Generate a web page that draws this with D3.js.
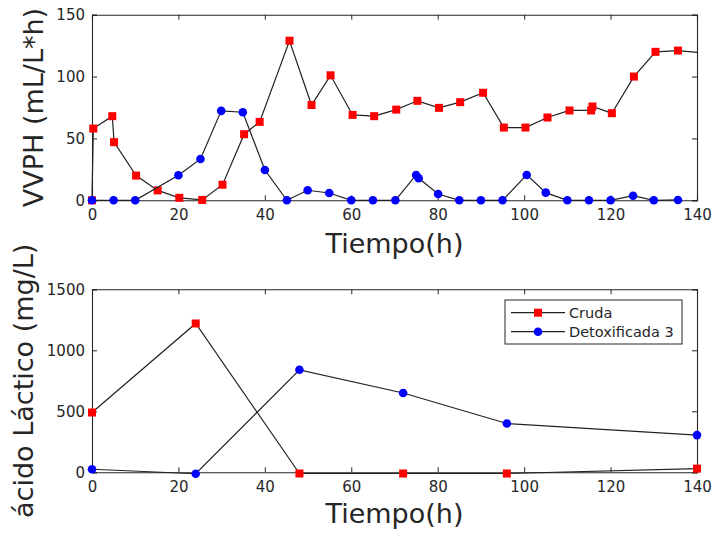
<!DOCTYPE html>
<html>
<head>
<meta charset="utf-8">
<script src="https://cdn.jsdelivr.net/npm/d3@7"></script>
<style>
  body { margin: 0; background: #fff; }
  svg { display: block; }
  text { font-family: "DejaVu Sans", sans-serif; fill: #262626; }
</style>
</head>
<body>
<svg id="chart" width="715" height="533"></svg>
<script>
// top panel: VVPH
const tCrudaTop = [0, 0.3, 4.7, 5.1, 10.2, 15.2, 20.2, 25.5, 30.2, 35.2, 38.8, 45.7, 50.8, 55.2, 60.3, 65.3, 70.4, 75.3, 80.3, 85.2, 90.5, 95.3, 100.3, 105.4, 110.5, 115.5, 115.8, 120.3, 125.4, 130.4, 135.6, 145];
const vCrudaTop = [0, 58, 68, 47, 20, 8, 2, 0.3, 12.6, 53.4, 63.4, 129, 77, 101, 69, 68, 73.3, 80.4, 74.7, 79.3, 86.9, 58.8, 58.8, 66.9, 72.6, 72.6, 75.8, 70.4, 100, 120, 121, 118];
const tDetoxTop = [0, 5, 10, 20, 25.1, 29.9, 34.9, 40, 45.1, 49.9, 54.9, 60, 65, 70.2, 75, 75.6, 80.1, 85, 90, 95, 100.6, 105, 110, 115, 120, 125.2, 130, 135.6];
const vDetoxTop = [0, 0, 0, 20.2, 33.4, 72.3, 71.2, 24.5, 0, 8.1, 5.9, 0, 0, 0, 20.5, 17.8, 5.1, 0, 0, 0, 20.5, 6.2, 0, 0, 0, 3.7, 0, 0.3];

// bottom panel: acido lactico
const tBottom = [0, 24, 48, 72, 96, 140];
const crudaBottom = [490, 1220, -10, -10, -10, 30];
const detoxBottom = [25, -12, 840, 650, 400, 305];

const xTicks = [0, 20, 40, 60, 80, 100, 120, 140];
const yTicksTop = [0, 50, 100, 150];
const yTicksBottom = [0, 500, 1000, 1500];
const seriesNames = ['Cruda', 'Detoxificada 3'];

const svg = d3.select('#chart');
const left = 92, right = 697;

function drawPanel(cfg) {
    const x = d3.scaleLinear().domain([0, 140]).range([left, right]);
    const y = d3.scaleLinear().domain([cfg.yMin, cfg.yMax]).range([cfg.bottom, cfg.top]);
    const g = svg.append('g');
    const w = right - left, h = cfg.bottom - cfg.top;

    const clipId = 'clip' + cfg.id;
    svg.append('clipPath').attr('id', clipId)
        .append('rect').attr('x', left - 20).attr('y', cfg.top - 20)
        .attr('width', w + 20).attr('height', h + 40);

    // ticks inside on all four sides
    g.append('g').attr('transform', `translate(0,${cfg.bottom})`)
        .call(d3.axisBottom(x).tickValues(xTicks).tickSize(-5).tickPadding(9).tickFormat(d3.format('d')));
    g.append('g').attr('transform', `translate(0,${cfg.top})`)
        .call(d3.axisTop(x).tickValues(xTicks).tickSize(-5).tickFormat(''));
    g.append('g').attr('transform', `translate(${left},0)`)
        .call(d3.axisLeft(y).tickValues(cfg.yTicks).tickSize(-5).tickPadding(7).tickFormat(d3.format('d')));
    g.append('g').attr('transform', `translate(${right},0)`)
        .call(d3.axisRight(y).tickValues(cfg.yTicks).tickSize(-5).tickFormat(''));
    g.selectAll('.domain').attr('stroke', '#262626').attr('stroke-width', 1.1);
    g.selectAll('.tick line').attr('stroke', '#262626');
    g.selectAll('.tick text').attr('font-size', 15).attr('fill', '#333')
        .style('font-family', '"DejaVu Sans", sans-serif');

    const line = d3.line().x(d => x(d[0])).y(d => y(d[1]));
    cfg.series.forEach(s => {
        const pts = s.t.map((t, i) => [t, s.v[i]]);
        g.append('path').datum(pts).attr('d', line)
            .attr('clip-path', `url(#${clipId})`)
            .attr('fill', 'none').attr('stroke', '#222').attr('stroke-width', 1.2);
        const shown = pts.filter(d => d[0] <= 140);
        if (s.marker === 'square') {
            g.selectAll(null).data(shown).enter().append('rect')
                .attr('x', d => x(d[0]) - 4).attr('y', d => y(d[1]) - 4)
                .attr('width', 8).attr('height', 8).attr('fill', '#ff0000');
        } else {
            g.selectAll(null).data(shown).enter().append('circle')
                .attr('cx', d => x(d[0])).attr('cy', d => y(d[1]))
                .attr('r', 4.3).attr('fill', '#0000ff');
        }
    });

    svg.append('text').attr('x', (left + right) / 2).attr('y', cfg.xLabelY)
        .attr('text-anchor', 'middle').attr('font-size', 27).text('Tiempo(h)');
    svg.append('text')
        .attr('transform', `translate(${cfg.yLabelX},${(cfg.top + cfg.bottom) / 2}) rotate(-90)`)
        .attr('text-anchor', 'middle').attr('font-size', 27).text(cfg.yLabel);
    return { x, y };
}

drawPanel({
    id: 'top', top: 14.7, bottom: 200.3, yMin: 0, yMax: 150, yTicks: yTicksTop,
    xLabelY: 253, yLabelX: 43, yLabel: 'VVPH (mL/L*h)',
    series: [
        { t: tCrudaTop, v: vCrudaTop, marker: 'square' },
        { t: tDetoxTop, v: vDetoxTop, marker: 'circle' }
    ]
});

drawPanel({
    id: 'bottom', top: 289.3, bottom: 472.3, yMin: 0, yMax: 1500, yTicks: yTicksBottom,
    xLabelY: 522.5, yLabelX: 33, yLabel: 'ácido Láctico (mg/L)',
    series: [
        { t: tBottom, v: crudaBottom, marker: 'square' },
        { t: tBottom, v: detoxBottom, marker: 'circle' }
    ]
});

// legend
const legend = svg.append('g');
legend.append('rect').attr('x', 505).attr('y', 300).attr('width', 177).attr('height', 44)
    .attr('fill', '#fff').attr('stroke', '#262626').attr('stroke-width', 1);
seriesNames.forEach((name, i) => {
    const ly = 312.7 + i * 19;
    legend.append('line').attr('x1', 511).attr('x2', 565).attr('y1', ly).attr('y2', ly)
        .attr('stroke', '#222').attr('stroke-width', 1.2);
    if (i === 0) {
        legend.append('rect').attr('x', 534).attr('y', ly - 4).attr('width', 8).attr('height', 8).attr('fill', '#ff0000');
    } else {
        legend.append('circle').attr('cx', 538).attr('cy', ly).attr('r', 4.3).attr('fill', '#0000ff');
    }
    legend.append('text').attr('x', 569).attr('y', ly).attr('dy', '0.35em')
        .attr('font-size', 14.5).text(name);
});
</script>
</body>
</html>
